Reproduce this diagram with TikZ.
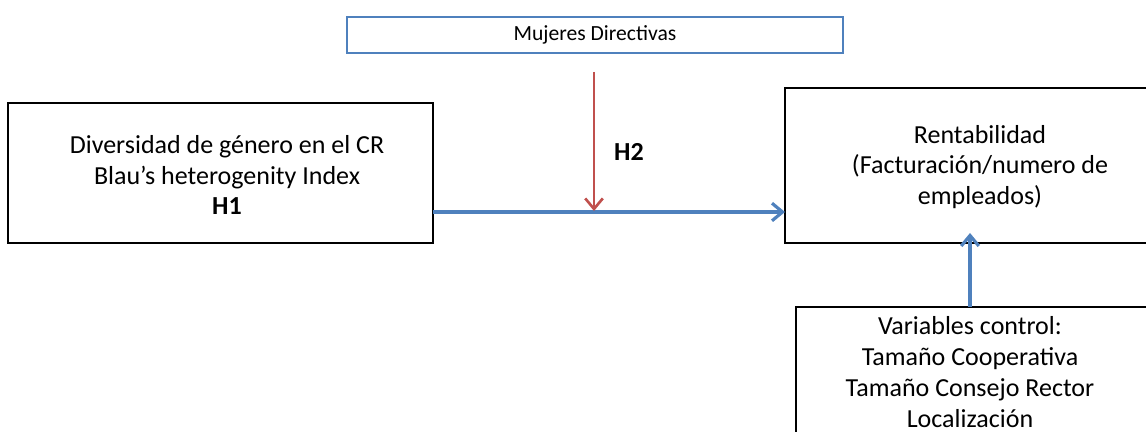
\documentclass[tikz,border=0pt]{standalone}
\usepackage{fontspec}
\setmainfont{Carlito}
\usetikzlibrary{arrows.meta}
\definecolor{obl}{HTML}{4F81BD}
\definecolor{ord}{HTML}{C0504D}
\begin{document}
\begin{tikzpicture}[x=0.02cm,y=-0.02cm,
  box/.style={draw=black,line width=0.9pt,rectangle,inner sep=0pt,outer sep=0pt},
  bigtxt/.style={align=center,font=\fontsize{14.8}{17.6}\selectfont,inner sep=0pt},
  barrow/.style={draw=obl,line width=2.1pt,-{Straight Barb[length=6pt,width=10pt,line width=1.8pt]}},
  rarrow/.style={draw=ord,line width=1.5pt,-{Straight Barb[length=6pt,width=10pt,line width=1.5pt]}}]
\useasboundingbox (0,0) rectangle (1146,432);
\clip (0,0) rectangle (1146,432);
% top box
\node[draw=obl,line width=0.8pt,rectangle,minimum width=496*0.02cm,minimum height=36*0.02cm,inner sep=0pt,font=\fontsize{12.3}{14}\selectfont] (top) at (595,35) {Mujeres Directivas};
% left box
\node[box,minimum width=425*0.02cm,minimum height=140*0.02cm] (left) at (220.5,173) {};
\node[bigtxt] (lefttxt) at (227,175) {Diversidad de género en el CR\\Blau’s heterogenity Index\\\textbf{H1}};
% right box
\node[box,minimum width=390*0.02cm,minimum height=155*0.02cm] (right) at (980,165.5) {};
\node[bigtxt] (righttxt) at (980,167) {Rentabilidad\\(Facturación/numero de\\empleados)};
% bottom box
\node[box,minimum width=370*0.02cm,minimum height=160*0.02cm,anchor=north west] (bottom) at (796,307) {};
\node[bigtxt,anchor=north] (bottomtxt) at (970,316) {Variables control:\\Tamaño Cooperativa\\Tamaño Consejo Rector\\Localización};
% connectors
\coordinate (h) at (0,212);
\draw[barrow] (left.east |- h) -- (right.west |- h);
\coordinate (rs) at (594,72);
\coordinate (re) at (594,211);
\draw[rarrow] (rs) -- (re);
\node[font=\fontsize{14.8}{17}\selectfont\bfseries] (h2) at (629,152) {H2};
\coordinate (bs) at (970,307);
\coordinate (be) at (970,233);
\draw[barrow] (bottom.north -| bs) -- (be);
\end{tikzpicture}
\end{document}
